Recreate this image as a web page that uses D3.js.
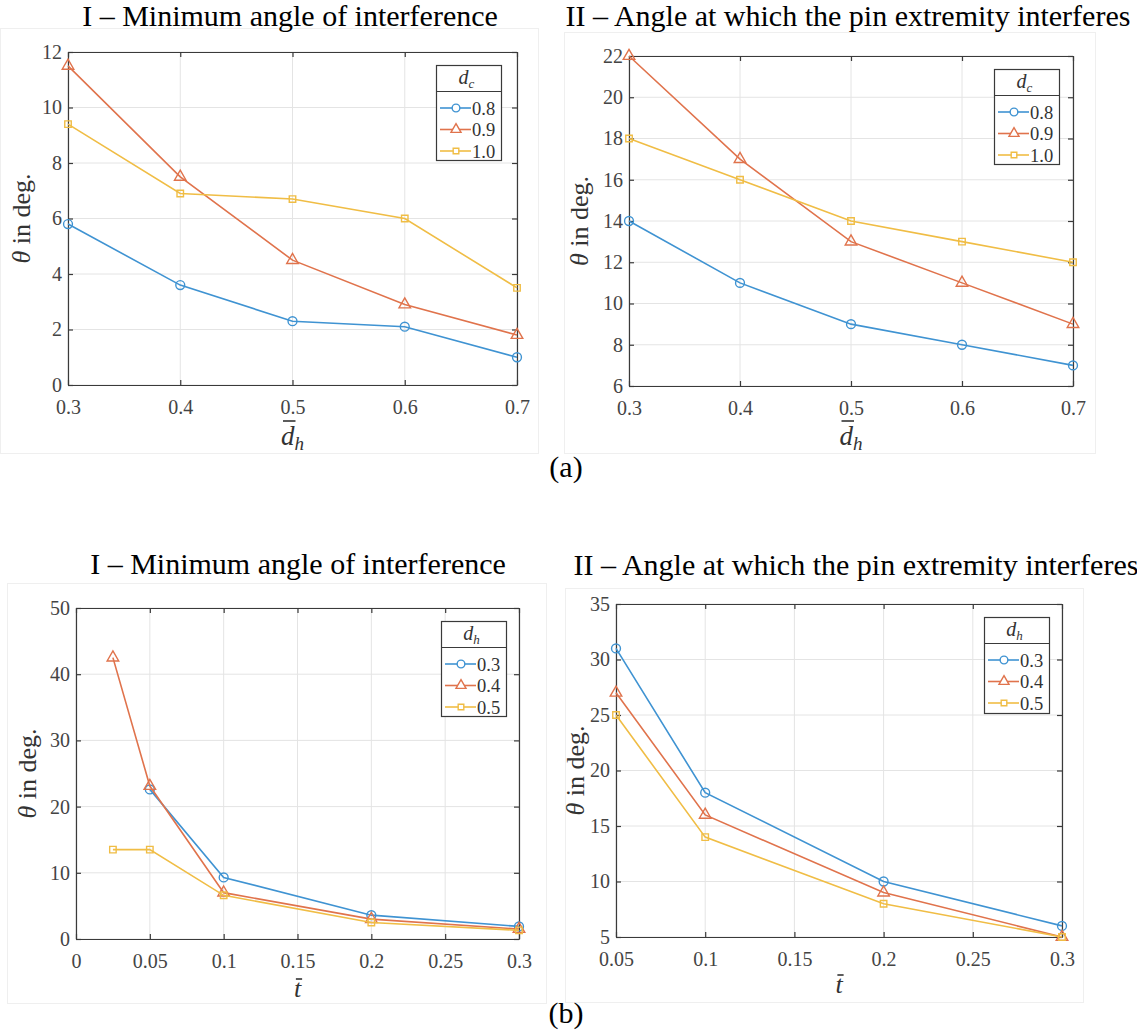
<!DOCTYPE html>
<html>
<head>
<meta charset="utf-8">
<script src="https://cdn.jsdelivr.net/npm/d3@7"></script>
<style>
  body { margin: 0; background: #fff; }
</style>
</head>
<body>
<script>
// (a) x = d_h bar, series by d_c
const dhBar = [0.3, 0.4, 0.5, 0.6, 0.7];
const dcLevels = ['0.8', '0.9', '1.0'];
const minDc08 = [5.8, 3.6, 2.3, 2.1, 1.0];
const minDc09 = [11.5, 7.5, 4.5, 2.9, 1.8];
const minDc10 = [9.4, 6.9, 6.7, 6.0, 3.5];
const pinDc08 = [14, 11, 9, 8, 7];
const pinDc09 = [22, 17, 13, 11, 9];
const pinDc10 = [18, 16, 14, 13, 12];

// (b) x = t bar, series by d_h
const dhLevels = ['0.3', '0.4', '0.5'];
const tBarMin = [0.025, 0.05, 0.1, 0.2, 0.3];
const minDh03 = [null, 22.6, 9.3, 3.6, 1.9];
const minDh04 = [42.5, 23.1, 7.0, 3.0, 1.5];
const minDh05 = [13.5, 13.5, 6.6, 2.5, 1.3];
const tBarPin = [0.05, 0.1, 0.2, 0.3];
const pinDh03 = [31, 18, 10, 6];
const pinDh04 = [27, 16, 9, 5];
const pinDh05 = [25, 14, 8, 5];

// tick values
const ticksDh = [0.3, 0.4, 0.5, 0.6, 0.7];
const ticksMinA = [0, 2, 4, 6, 8, 10, 12];
const ticksPinA = [6, 8, 10, 12, 14, 16, 18, 20, 22];
const ticksTMin = [0, 0.05, 0.1, 0.15, 0.2, 0.25, 0.3];
const ticksMinB = [0, 10, 20, 30, 40, 50];
const ticksTPin = [0.05, 0.1, 0.15, 0.2, 0.25, 0.3];
const ticksPinB = [5, 10, 15, 20, 25, 30, 35];

const titleMin = 'I \u2013 Minimum angle of interference';
const titlePin = 'II \u2013 Angle at which the pin extremity interferes';

const serif = 'Liberation Serif, Times New Roman, serif';
const colors = ['#3f93d2', '#e0734c', '#f0bd45'];
const shapes = [d3.symbolCircle, d3.symbolTriangle, d3.symbolSquare];
const sizes = [62, 58, 42];
const fmt = d => String(+d.toFixed(3));

const svg = d3.select('body').append('svg').attr('width', 1137).attr('height', 1034)
  .style('display', 'block');

function xLabel(g, cx, base, kind) {
  const t = g.append('text').attr('x', cx).attr('y', base)
    .attr('text-anchor', 'middle').attr('font-style', 'italic').attr('fill', '#333');
  let off;
  if (kind === 'dh') {
    t.attr('font-size', 27);
    t.append('tspan').text('d');
    t.append('tspan').attr('font-size', 19).attr('dy', 5).text('h');
    off = 24;
  } else {
    t.attr('font-size', 26).text('t');
    off = 18;
  }
  const s = t.node().getStartPositionOfChar(0), e = t.node().getEndPositionOfChar(0);
  g.append('line').attr('x1', s.x + 2).attr('x2', e.x + 1)
    .attr('y1', base - off).attr('y2', base - off)
    .attr('stroke', '#333').attr('stroke-width', 1.6);
}

function panel(cfg) {
  const g = svg.append('g');
  const f = cfg.frame;
  g.append('rect').attr('x', f[0] + 0.5).attr('y', f[1] + 0.5)
    .attr('width', f[2] - f[0]).attr('height', f[3] - f[1])
    .attr('fill', 'none').attr('stroke', '#efefef');

  const x = d3.scaleLinear().domain(cfg.xDomain).range([cfg.left, cfg.right]);
  const y = d3.scaleLinear().domain(cfg.yDomain).range([cfg.bottom, cfg.top]);

  // grid
  g.append('g').selectAll('line').data(cfg.xTicks).join('line')
    .attr('x1', d => x(d)).attr('x2', d => x(d))
    .attr('y1', cfg.top).attr('y2', cfg.bottom)
    .attr('stroke', '#e4e4e4');
  g.append('g').selectAll('line').data(cfg.yTicks).join('line')
    .attr('x1', cfg.left).attr('x2', cfg.right)
    .attr('y1', d => y(d)).attr('y2', d => y(d))
    .attr('stroke', '#e4e4e4');

  // axes, ticks inward on all four sides
  const ax = [
    g.append('g').attr('transform', `translate(0,${cfg.bottom})`)
      .call(d3.axisBottom(x).tickValues(cfg.xTicks).tickFormat(fmt).tickSize(-5).tickSizeOuter(0).tickPadding(15)),
    g.append('g').attr('transform', `translate(${cfg.left},0)`)
      .call(d3.axisLeft(y).tickValues(cfg.yTicks).tickFormat(fmt).tickSize(-5).tickSizeOuter(0).tickPadding(6)),
    g.append('g').attr('transform', `translate(0,${cfg.top})`)
      .call(d3.axisTop(x).tickValues(cfg.xTicks).tickSize(-5).tickSizeOuter(0)),
    g.append('g').attr('transform', `translate(${cfg.right},0)`)
      .call(d3.axisRight(y).tickValues(cfg.yTicks).tickSize(-5).tickSizeOuter(0))
  ];
  // top and right axes carry ticks only
  ax[2].selectAll('text').remove();
  ax[3].selectAll('text').remove();
  ax.forEach(a => {
    a.attr('font-family', serif).attr('font-size', 20);
    a.selectAll('path, line').attr('stroke', '#3a3a3a').attr('stroke-width', 1.2);
    a.selectAll('text').attr('fill', '#444');
  });

  // series
  const line = d3.line()
    .defined(d => d[1] != null)
    .x(d => x(d[0])).y(d => y(d[1]));
  cfg.series.forEach((vals, i) => {
    const pts = cfg.xs.map((xv, j) => [xv, vals[j]]);
    g.append('path').datum(pts).attr('d', line)
      .attr('fill', 'none').attr('stroke', colors[i]).attr('stroke-width', 1.6);
    g.append('g').selectAll('path').data(pts.filter(p => p[1] != null)).join('path')
      .attr('transform', p => `translate(${x(p[0])},${y(p[1])})`)
      .attr('d', d3.symbol().type(shapes[i]).size(sizes[i]))
      .attr('fill', 'none').attr('stroke', colors[i]).attr('stroke-width', 1.4);
  });

  // legend
  const L = cfg.legend;
  g.append('rect').attr('x', L[0] + 0.5).attr('y', L[1] + 0.5)
    .attr('width', L[2] - L[0]).attr('height', L[3] - L[1])
    .attr('fill', '#fff').attr('stroke', '#3a3a3a').attr('stroke-width', 1.2);
  g.append('line').attr('x1', L[0]).attr('x2', L[2])
    .attr('y1', L[1] + 26.5).attr('y2', L[1] + 26.5)
    .attr('stroke', '#3a3a3a').attr('stroke-width', 1.2);
  const head = g.append('text').attr('x', (L[0] + L[2]) / 2 - 2).attr('y', L[1] + 19)
    .attr('text-anchor', 'middle').attr('font-size', 20).attr('font-style', 'italic').attr('fill', '#333');
  head.append('tspan').text('d');
  head.append('tspan').attr('font-size', 13).attr('dy', 4).text(cfg.legendSub);
  cfg.levels.forEach((lab, i) => {
    const cy = L[1] + 43 + i * 21.5;
    g.append('line').attr('x1', L[0] + 4).attr('x2', L[0] + 35).attr('y1', cy).attr('y2', cy)
      .attr('stroke', colors[i]).attr('stroke-width', 1.6);
    g.append('path').attr('transform', `translate(${L[0] + 20},${cy})`)
      .attr('d', d3.symbol().type(shapes[i]).size(sizes[i] * 0.75))
      .attr('fill', '#fff').attr('stroke', colors[i]).attr('stroke-width', 1.4);
    g.append('text').attr('x', L[0] + 36).attr('y', cy + 6.5)
      .attr('font-size', 18.5).attr('fill', '#333').text(lab);
  });

  // title
  g.append('text').attr('x', cfg.titleX).attr('y', cfg.titleY)
    .attr('text-anchor', 'middle').attr('font-size', 30).attr('fill', '#000').text(cfg.title);

  // y label
  const yl = g.append('text')
    .attr('transform', `translate(${cfg.yLabelX},${(cfg.top + cfg.bottom) / 2}) rotate(-90)`)
    .attr('text-anchor', 'middle').attr('font-size', 26).attr('fill', '#333');
  yl.append('tspan').attr('font-style', 'italic').text('\u03b8');
  yl.append('tspan').text(' in deg.');

  xLabel(g, (cfg.left + cfg.right) / 2, cfg.bottom + cfg.xLabelDy, cfg.xKind);
}

panel({
  frame: [0, 28, 538, 453],
  left: 68, right: 517, top: 52, bottom: 385,
  xDomain: [0.3, 0.7], yDomain: [0, 12], xTicks: ticksDh, yTicks: ticksMinA,
  xs: dhBar, series: [minDc08, minDc09, minDc10], levels: dcLevels, legendSub: 'c',
  legend: [436, 65, 501, 160],
  title: titleMin, titleX: 290, titleY: 26,
  yLabelX: 30, xKind: 'dh', xLabelDy: 60
});

panel({
  frame: [564, 32, 1095, 453],
  left: 629, right: 1073, top: 56, bottom: 386,
  xDomain: [0.3, 0.7], yDomain: [6, 22], xTicks: ticksDh, yTicks: ticksPinA,
  xs: dhBar, series: [pinDc08, pinDc09, pinDc10], levels: dcLevels, legendSub: 'c',
  legend: [994, 69, 1059, 164],
  title: titlePin, titleX: 848, titleY: 26,
  yLabelX: 588, xKind: 'dh', xLabelDy: 59
});

panel({
  frame: [7, 583, 546, 1003],
  left: 76, right: 519, top: 608, bottom: 939,
  xDomain: [0, 0.3], yDomain: [0, 50], xTicks: ticksTMin, yTicks: ticksMinB,
  xs: tBarMin, series: [minDh03, minDh04, minDh05], levels: dhLevels, legendSub: 'h',
  legend: [441, 621, 506, 716],
  title: titleMin, titleX: 298, titleY: 574,
  yLabelX: 36, xKind: 't', xLabelDy: 58
});

panel({
  frame: [565, 588, 1083, 1002],
  left: 616, right: 1062, top: 604, bottom: 937,
  xDomain: [0.05, 0.3], yDomain: [5, 35], xTicks: ticksTPin, yTicks: ticksPinB,
  xs: tBarPin, series: [pinDh03, pinDh04, pinDh05], levels: dhLevels, legendSub: 'h',
  legend: [984, 617, 1049, 713],
  title: titlePin, titleX: 856, titleY: 575,
  yLabelX: 584, xKind: 't', xLabelDy: 56
});

svg.append('text').attr('x', 566).attr('y', 477).attr('text-anchor', 'middle')
  .attr('font-size', 30).attr('fill', '#000').text('(a)');
svg.append('text').attr('x', 566).attr('y', 1023).attr('text-anchor', 'middle')
  .attr('font-size', 30).attr('fill', '#000').text('(b)');

// every label in the serif face of the original
svg.selectAll('text').attr('font-family', serif);
</script>
</body>
</html>
